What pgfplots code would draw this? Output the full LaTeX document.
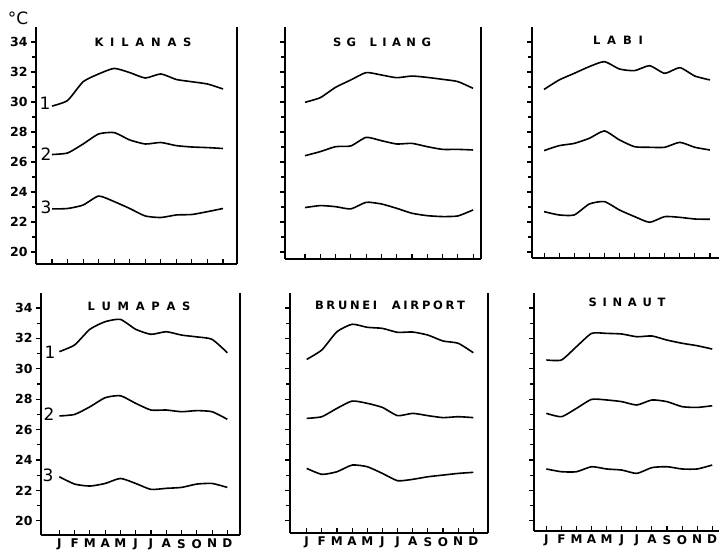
\documentclass[border=0pt]{standalone}
\usepackage{pgfplots}
\pgfplotsset{compat=1.18}
\usepackage{pgfplotstable}
\usepackage{fontspec}
\setmainfont{DejaVu Sans}

\pgfplotstableread{
m a b c
0 29.73 26.50 22.87
1 30.10 26.60 22.90
2 31.35 27.20 23.13
3 31.87 27.87 23.73
4 32.24 27.96 23.36
5 31.96 27.47 22.90
6 31.60 27.20 22.40
7 31.87 27.30 22.30
8 31.50 27.09 22.47
9 31.35 27.00 22.50
10 31.20 26.96 22.69
11 30.87 26.90 22.90
}\kilanas
\pgfplotstableread{
m a b c
0 29.98 26.42 22.96
1 30.29 26.69 23.09
2 30.98 27.02 23.02
3 31.47 27.07 22.87
4 31.96 27.64 23.31
5 31.80 27.42 23.20
6 31.62 27.20 22.91
7 31.73 27.24 22.58
8 31.64 27.02 22.42
9 31.51 26.84 22.36
10 31.36 26.84 22.40
11 30.91 26.80 22.80
}\sgliang
\pgfplotstableread{
m a b c
0 30.84 26.76 22.69
1 31.47 27.09 22.47
2 31.91 27.24 22.47
3 32.36 27.58 23.20
4 32.69 28.07 23.36
5 32.20 27.47 22.80
6 32.09 27.02 22.36
7 32.42 26.98 21.98
8 31.91 26.98 22.36
9 32.29 27.31 22.31
10 31.73 26.98 22.20
11 31.47 26.80 22.18
}\labi
\pgfplotstableread{
m a b c
0 31.13 26.90 22.90
1 31.57 27.00 22.42
2 32.60 27.50 22.29
3 33.10 28.10 22.46
4 33.25 28.23 22.79
5 32.60 27.73 22.46
6 32.27 27.29 22.07
7 32.44 27.29 22.14
8 32.22 27.18 22.20
9 32.10 27.25 22.42
10 31.94 27.18 22.46
11 31.06 26.68 22.20
}\lumapas
\pgfplotstableread{
m a b c
0 30.62 26.74 23.45
1 31.24 26.85 23.06
2 32.44 27.40 23.23
3 32.93 27.88 23.67
4 32.73 27.73 23.56
5 32.66 27.46 23.12
6 32.40 26.92 22.64
7 32.42 27.07 22.73
8 32.22 26.92 22.90
9 31.83 26.79 23.01
10 31.68 26.85 23.12
11 31.06 26.79 23.19
}\brunei
\pgfplotstableread{
m a b c
0 30.58 27.07 23.41
1 30.58 26.85 23.23
2 31.46 27.40 23.23
3 32.33 27.99 23.56
4 32.33 27.95 23.41
5 32.29 27.84 23.34
6 32.11 27.62 23.12
7 32.16 27.95 23.50
8 31.89 27.84 23.56
9 31.68 27.51 23.41
10 31.52 27.46 23.41
11 31.30 27.57 23.67
}\sinaut

\pgfplotsset{
  panel/.style={
    scale only axis, anchor=north west, clip=false,
    axis x line*=bottom, axis y line*=left,
    axis line style={-, line width=1.7pt, black},
    xtick={0,...,11}, ytick={20,22,...,34}, minor ytick={21,23,...,33},
    xtick align=inside, ytick align=outside,
    major tick length=5pt, minor tick length=4pt,
    every tick/.style={line width=1.1pt, black},
    xticklabels={}, yticklabels={},
    tick label style={font=\bfseries\fontsize{12.5}{14}\selectfont},
    xticklabel style={font=\bfseries\fontsize{12}{13}\selectfont, inner sep=1pt, yshift=-3pt},
    ymax=35,
  },
  ylab/.style={yticklabels={20,22,24,26,28,30,32,34}},
  xlab/.style={xticklabels={J,F,M,A,M,J,J,A,S,O,N,D}},
}
\tikzset{dl/.style={line width=1.6pt, black, no marks, smooth, tension=0.35}}
\newcommand{\plotset}[1]{%
  \addplot[dl] table[x=m,y=a]{#1};
  \addplot[dl] table[x=m,y=b]{#1};
  \addplot[dl] table[x=m,y=c]{#1};}
\newcommand{\rightedge}{\draw[line width=1.7pt] (rel axis cs:1,0) -- (rel axis cs:1,1);}

\begin{document}
\begin{tikzpicture}
\useasboundingbox (0,0) rectangle (719pt,-556pt);
% top row
\begin{axis}[panel, ylab, at={(36pt,-27pt)}, width=201pt, height=237pt,
  xmin=-1.03, xmax=11.9, ymin=19.2]
\plotset{\kilanas}
\rightedge
\end{axis}
\begin{axis}[panel, at={(285pt,-27pt)}, width=196pt, height=232pt,
  xmin=-1.31, xmax=11.52, ymin=19.53]
\plotset{\sgliang}
\rightedge
\end{axis}
\begin{axis}[panel, at={(532pt,-27pt)}, width=187pt, height=231pt,
  xmin=-0.8, xmax=11.6, ymin=19.6]
\plotset{\labi}
\end{axis}
% bottom row
\begin{axis}[panel, ylab, xlab, at={(41pt,-292.8pt)}, width=199pt, height=242.2pt,
  xmin=-1.2, xmax=11.83, ymin=19.07]
\plotset{\lumapas}
\rightedge
\end{axis}
\begin{axis}[panel, xlab, at={(290pt,-292.8pt)}, width=198pt, height=240.2pt,
  xmin=-1.1, xmax=11.97, ymin=19.2]
\plotset{\brunei}
\rightedge
\end{axis}
\begin{axis}[panel, xlab, at={(534pt,-292.8pt)}, width=185pt, height=238.2pt,
  xmin=-0.82, xmax=11.45, ymin=19.33]
\plotset{\sinaut}
\end{axis}
% titles
\begin{scope}[every node/.style={font=\bfseries\fontsize{11.5}{12}\selectfont, inner sep=0pt}]
\node at (143pt,-42pt) {\makebox[97pt][s]{K\hfil I\hfil L\hfil A\hfil N\hfil A\hfil S}};
\node at (382pt,-42pt) {\makebox[98pt][s]{S\hfil G\hspace{8pt}\hfil L\hfil I\hfil A\hfil N\hfil G}};
\node at (618pt,-40pt) {\makebox[50pt][s]{L\hfil A\hfil B\hfil I}};
\node at (139pt,-306pt) {\makebox[103pt][s]{L\hfil U\hfil M\hfil A\hfil P\hfil A\hfil S}};
\node at (390pt,-305pt) {\makebox[150pt][s]{B\hfil R\hfil U\hfil N\hfil E\hfil I\hspace{12pt}\hfil A\hfil I\hfil R\hfil P\hfil O\hfil R\hfil T}};
\node at (627pt,-302pt) {\makebox[77pt][s]{S\hfil I\hfil N\hfil A\hfil U\hfil T}};
\end{scope}
% series numbers
\begin{scope}[every node/.style={font=\fontsize{17}{18}\selectfont, inner sep=0pt}]
\node at (45pt,-103pt) {1};
\node at (46pt,-154pt) {2};
\node at (46pt,-207pt) {3};
\node at (50pt,-352pt) {1};
\node at (49pt,-414pt) {2};
\node at (48pt,-475pt) {3};
\end{scope}
\node[font=\fontsize{17}{18}\selectfont, inner sep=0pt] at (18pt,-18pt) {°C};
\end{tikzpicture}
\end{document}
